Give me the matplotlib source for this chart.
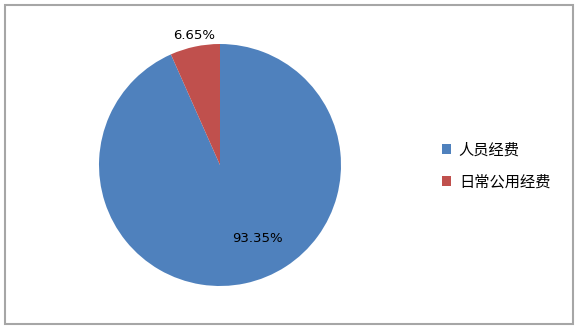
from matplotlib import pyplot as plt
from matplotlib.patches import Patch, Rectangle

plt.rcParams['font.family'] = ['Noto Sans CJK SC', 'DejaVu Sans']

# 数据
labels = ["人员经费", "日常公用经费"]
values = [93.35, 6.65]
colors = ["#4F81BD", "#C0504D"]
# 百分比标签位置(半径单位)
label_pos = [(0.31, -0.61), (-0.215, 1.074)]

fig = plt.figure(figsize=(5.82, 3.33), dpi=100)

# 外框
fig.patches.append(Rectangle((5/582, 1-324/333), 568/582, 319/333, transform=fig.transFigure,
                             fill=False, edgecolor="#A6A6A6", linewidth=1.5))

# 饼图区域
cx, cy, r = 220, 165, 121
ax = fig.add_axes([(cx-r)/582, (333-cy-r)/333, 2*r/582, 2*r/333])
wedges, texts, autotexts = ax.pie(values, colors=colors, startangle=90, counterclock=False,
                                  autopct="%.2f%%", radius=1,
                                  textprops={"fontsize": 9.5, "family": "DejaVu Sans"})
for t, p in zip(autotexts, label_pos):
    t.set_position(p)
ax.set_xlim(-1, 1)
ax.set_ylim(-1, 1)
ax.set_aspect("auto")
ax.axis("off")

# 图例
handles = [Patch(facecolor=c, edgecolor="none") for c in colors]
fig.legend(handles, labels, loc="center left", bbox_to_anchor=(442/582, 1-166/333),
           frameon=False, fontsize=11, handlelength=0.6, handleheight=0.6,
           handletextpad=0.5, labelspacing=1.0, borderpad=0, borderaxespad=0)

plt.savefig("out.png", dpi=100)
